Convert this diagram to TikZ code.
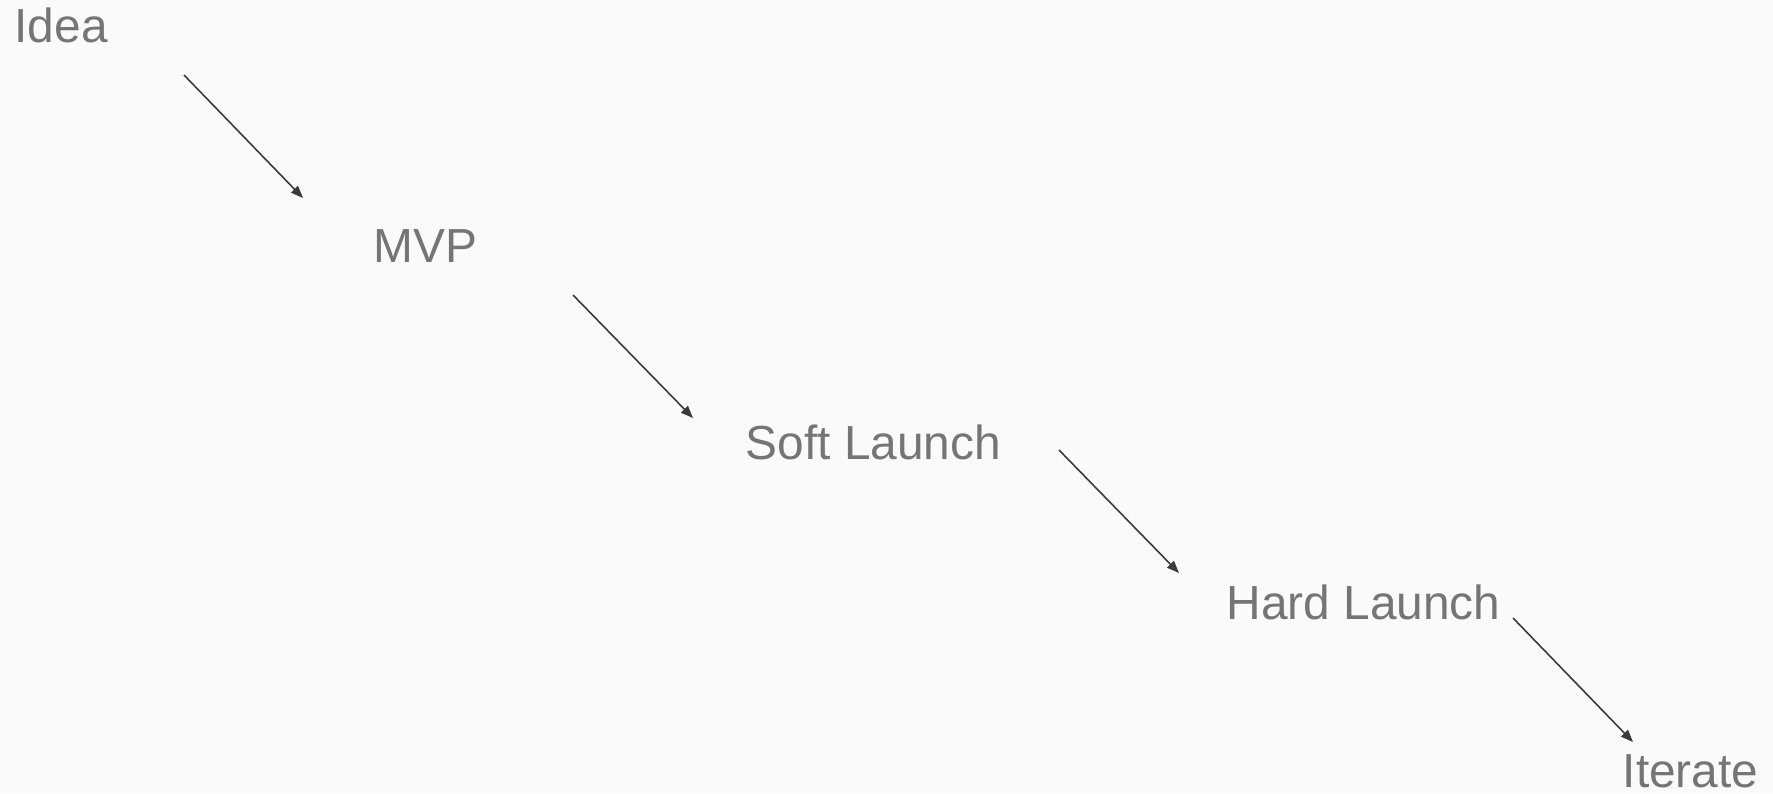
\documentclass[tikz,border=0pt]{standalone}
\usepackage{fontspec}
\setmainfont{Liberation Sans}
\usetikzlibrary{arrows.meta}
\definecolor{bg}{HTML}{FAFAFA}
\definecolor{txt}{HTML}{757575}
\definecolor{arr}{HTML}{3A3A3A}
\begin{document}
\begin{tikzpicture}[x=0.01cm,y=-0.01cm,
  lbl/.style={anchor=base west,inner sep=0pt,text=txt,font=\fontsize{13.6pt}{16pt}\selectfont},
  conn/.style={draw=arr,line width=0.45pt,-{Triangle[length=3.5pt,width=2.7pt]}}]
\fill[bg] (0,0) rectangle (1773,793);
\useasboundingbox (0,0) rectangle (1773,793);
\node[lbl] (idea) at (14,42) {Idea};
\node[lbl] (mvp) at (373,262) {MVP};
\node[lbl] (soft) at (745,459) {Soft Launch};
\node[lbl] (hard) at (1226,619) {Hard Launch};
\node[lbl] (iter) at (1622,787) {Iterate};
\coordinate (a1s) at (184,75);  \coordinate (a1e) at (303,198);
\coordinate (a2s) at (573,295); \coordinate (a2e) at (693,418);
\coordinate (a3s) at (1059,450); \coordinate (a3e) at (1179,573);
\coordinate (a4s) at (1513,618); \coordinate (a4e) at (1633,742);
\draw[conn] (a1s) -- (a1e);
\draw[conn] (a2s) -- (a2e);
\draw[conn] (a3s) -- (a3e);
\draw[conn] (a4s) -- (a4e);
\end{tikzpicture}
\end{document}
